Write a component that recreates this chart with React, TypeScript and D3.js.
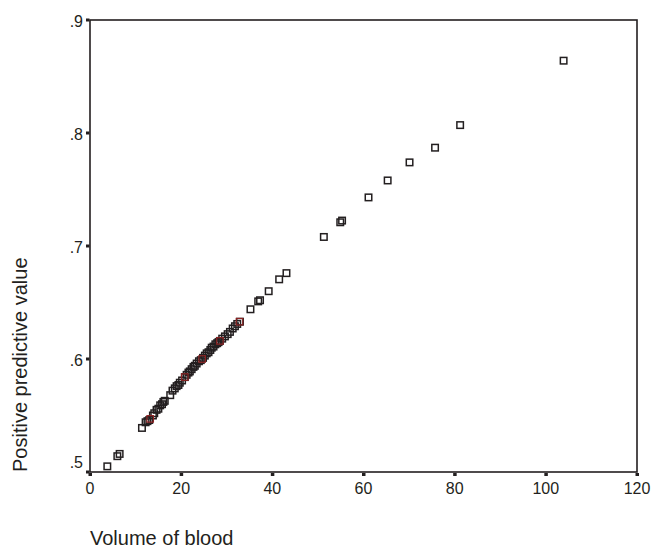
import React from "react";
import * as d3 from "d3";

const blackX = [3.8, 6.0, 6.5, 11.4, 12.2, 12.6, 13.0, 13.8, 14.1, 14.6, 15.0, 15.4, 15.8, 16.1, 16.4, 17.6, 18.1, 18.6, 19.0, 19.4, 19.7, 20.2, 20.8, 21.2, 21.6, 21.9, 22.3, 22.7, 23.0, 23.4, 23.9, 24.3, 24.8, 25.2, 25.6, 26.0, 26.4, 26.7, 27.1, 27.5, 27.9, 28.2, 28.5, 29.0, 29.6, 30.2, 30.7, 31.3, 31.8, 32.3, 32.9, 35.2, 36.9, 37.3, 39.2, 41.5, 43.1, 51.3, 54.9, 55.3, 61.1, 65.3, 70.1, 75.7, 81.2, 103.9];
const blackY = [0.505, 0.514, 0.516, 0.539, 0.544, 0.545, 0.546, 0.55, 0.552, 0.555, 0.556, 0.559, 0.56, 0.562, 0.563, 0.568, 0.572, 0.574, 0.576, 0.577, 0.579, 0.581, 0.584, 0.586, 0.588, 0.589, 0.591, 0.593, 0.594, 0.596, 0.598, 0.599, 0.601, 0.603, 0.605, 0.606, 0.608, 0.61, 0.611, 0.613, 0.614, 0.615, 0.616, 0.618, 0.62, 0.622, 0.624, 0.627, 0.629, 0.631, 0.633, 0.644, 0.651, 0.652, 0.66, 0.6705, 0.676, 0.708, 0.721, 0.7225, 0.743, 0.758, 0.774, 0.787, 0.807, 0.864];
const redX = [13.2, 20.8, 24.6, 28.5, 32.8];
const redY = [0.547, 0.584, 0.6, 0.616, 0.633];

const xTicks = [0, 20, 40, 60, 80, 100, 120];
const yTicks = [0.5, 0.6, 0.7, 0.8, 0.9];
const xTitle = "Volume of blood";
const yTitle = "Positive predictive value";

const W = 657;
const H = 548;
const FONT = "'Liberation Sans', Arial, sans-serif";
const INK = "#231f20";

export default function App() {
  const x = d3.scaleLinear().domain([0, 120]).range([90, 637]);
  const y = d3.scaleLinear().domain([0.5, 0.9]).range([472, 20]);
  const fmtY = (v: number) => d3.format(".1f")(v).replace(/^0/, "");
  const black = blackX.map((v, i) => [v, blackY[i]]);
  const red = redX.map((v, i) => [v, redY[i]]);
  const s = 6.5;
  const [x0, x1] = x.range();
  const [y0, y1] = y.range();

  return (
    <svg width={W} height={H} style={{ position: "absolute", left: 0, top: 0, background: "#fff" }} fontFamily={FONT}>
      <rect x={0} y={0} width={W} height={H} fill="#fff" />
      {/* frame */}
      <rect x={x0} y={y1} width={x1 - x0} height={y0 - y1} fill="none" stroke={INK} strokeWidth={1.6} />
      {/* y ticks */}
      {yTicks.map((t) => (
        <g key={"y" + t}>
          <rect x={x0 - 4} y={y(t) - 1.5} width={3.5} height={3} fill={INK} />
          <text x={83} y={t === 0.5 ? y(t) - 4 : y(t) + 6.5} textAnchor="end" fontSize={16} fill={INK}>
            {fmtY(t)}
          </text>
        </g>
      ))}
      {/* x ticks */}
      {xTicks.map((t) => (
        <g key={"x" + t}>
          <rect x={x(t) - 1.5} y={y0 + 1} width={3.5} height={3} fill={INK} />
          <text x={x(t)} y={494} textAnchor="middle" fontSize={16} fill={INK}>
            {t}
          </text>
        </g>
      ))}
      {/* points */}
      {black.map(([a, b], i) => (
        <rect key={"b" + i} x={x(a) - s / 2} y={y(b) - s / 2} width={s} height={s} fill="none" stroke={INK} strokeWidth={1.5} />
      ))}
      {red.map(([a, b], i) => (
        <rect key={"r" + i} x={x(a) - s / 2} y={y(b) - s / 2} width={s} height={s} fill="none" stroke="#8b2323" strokeWidth={1.2} />
      ))}
      {/* titles */}
      <text x={90} y={545} fontSize={20} fill={INK}>
        {xTitle}
      </text>
      <text transform={`translate(27,${y0}) rotate(-90)`} fontSize={20} fill={INK}>
        {yTitle}
      </text>
    </svg>
  );
}
